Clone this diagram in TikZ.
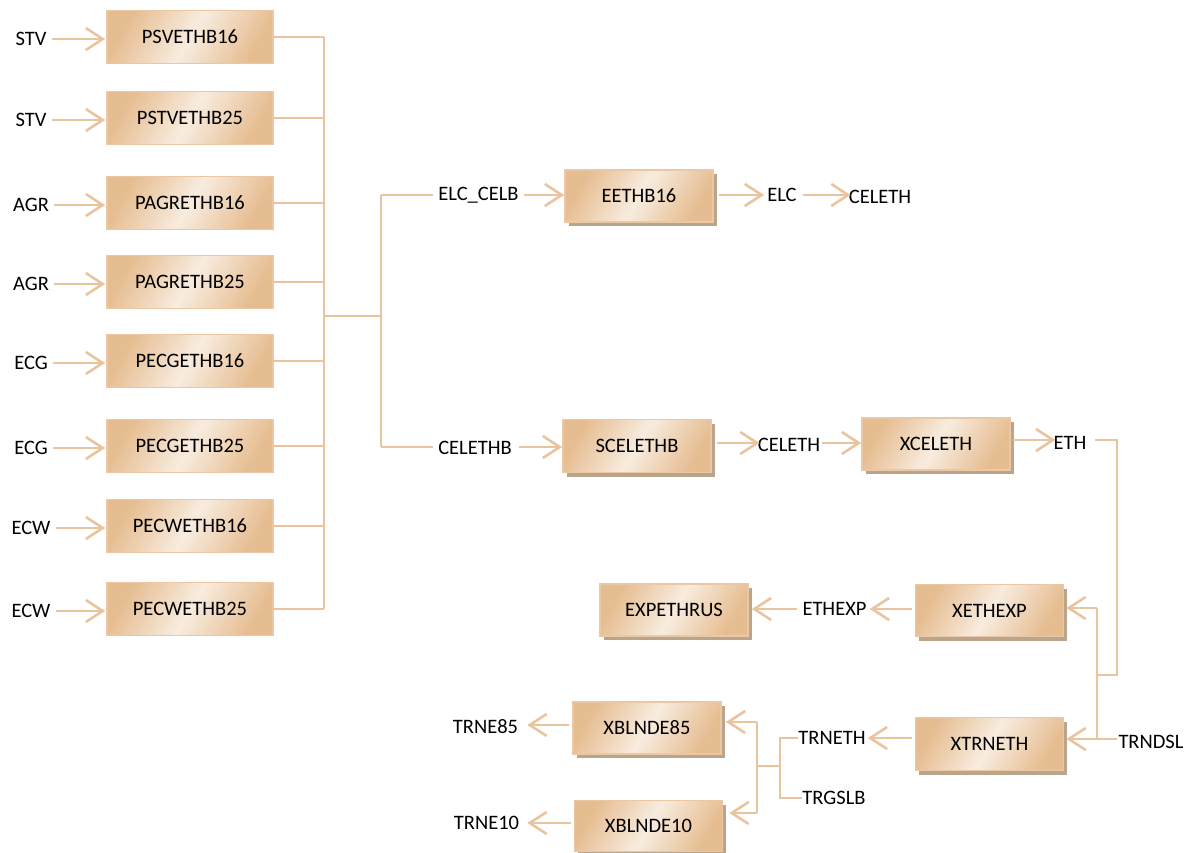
\documentclass[tikz,border=0pt]{standalone}
\usepackage{fontspec}
\setmainfont{Carlito}
\usetikzlibrary{arrows.meta,shadows}

\definecolor{linec}{HTML}{EAC49E}
\definecolor{boxline}{HTML}{EBC8A3}
\definecolor{tanD}{HTML}{E6BD91}
\definecolor{tanL}{HTML}{F8ECDF}
\definecolor{shadowc}{HTML}{B9A58C}

\tikzset{
  box/.style={rectangle, draw=boxline, line width=1.6pt,
    minimum width=148pt, minimum height=52pt, inner sep=0pt,
    left color=tanD, right color=tanD, middle color=tanL, shading angle=60},
  wbox/.style={box, minimum width=166pt, minimum height=53pt},
  sbox/.style={box, drop shadow={shadow xshift=3.5pt, shadow yshift=-4pt,
    fill=shadowc, opacity=1}},
  lbl/.style={inner sep=0pt, anchor=center},
  conn/.style={draw=linec, line width=2.6pt},
  arr/.style={conn, -{Straight Barb[length=17pt, width=22pt, line width=2.6pt]}},
}

\begin{document}
\begin{tikzpicture}[x=1pt, y=-1pt, font=\fontsize{20.5}{24}\selectfont]
\useasboundingbox (0,0) rectangle (1189,853);

% ---- left column of producers ----
\foreach \i/\lab/\nm/\y in {1/STV/PSVETHB16/37, 2/STV/PSTVETHB25/118,
    3/AGR/PAGRETHB16/203, 4/AGR/PAGRETHB25/282, 5/ECG/PECGETHB16/361,
    6/ECG/PECGETHB25/446, 7/ECW/PECWETHB16/526, 8/ECW/PECWETHB25/609} {
  \node[wbox] (b\i) at (190,\y) {\nm};
  \node[lbl] (in\i) at (31,\y+2) {\lab};
  \draw[arr, shorten <=5pt, shorten >=1pt] (in\i.east) -- (in\i.east -| b\i.west);
}

% ---- collecting bus ----
\coordinate (busT) at (324,37);
\coordinate (busB) at (324,609);
\coordinate (busM) at (324,316);
\coordinate (fork) at (381,316);
\coordinate (forkT) at (381,195);
\coordinate (forkB) at (381,447);
\draw[conn] (busT) -- (busB);
\foreach \i in {1,...,8} { \draw[conn] (b\i.east) -- (b\i.east -| busT); }
\draw[conn] (busM) -- (fork);
\draw[conn] (forkT) -- (forkB);

% ---- upper branch ----
\node[lbl] (elccelb) at (478.5,195) {ELC\_CELB};
\node[sbox] (eethb) at (639,196) {EETHB16};
\node[lbl] (elc) at (782,195) {ELC};
\node[lbl] (celeth1) at (880,197) {CELETH};
\draw[conn, shorten >=5pt] (forkT) -- (elccelb.west);
\draw[arr, shorten <=5pt] (elccelb.east) -- (eethb.west |- elccelb.east);
\draw[arr, shorten <=5pt, shorten >=3pt] (eethb.east |- elc.west) -- (elc.west);
\draw[arr, shorten <=6pt, shorten >=-2pt] (elc.east) -- (celeth1.west |- elc.east);

% ---- lower branch ----
\node[lbl] (celethb) at (475,448) {CELETHB};
\node[sbox, minimum height=53pt] (sceleth) at (637,446) {SCELETHB};
\node[lbl] (celeth2) at (789,445) {CELETH};
\node[sbox] (xceleth) at (936,444) {XCELETH};
\node[lbl] (eth) at (1070,443) {ETH};
\draw[conn, shorten >=5pt] (forkB) -- (celethb.west |- forkB);
\draw[arr, shorten <=7pt] (celethb.east |- forkB) -- (sceleth.west |- forkB);
\draw[arr, shorten <=5pt, shorten >=-2pt] (sceleth.east |- 0,443) -- (celeth2.west |- 0,443);
\draw[arr, shorten <=2pt] (celeth2.east |- 0,443) -- (xceleth.west |- 0,443);
\draw[arr, shorten <=2pt, shorten >=-2pt] (xceleth.east |- 0,440) -- (eth.west |- 0,440);

% ---- ethanol routing ----
\node[sbox] (xethexp) at (989.5,610.5) {XETHEXP};
\node[lbl] (ethexp) at (834.5,609) {ETHEXP};
\node[sbox] (expethrus) at (674,610) {EXPETHRUS};
\node[sbox, minimum height=53pt] (xtrneth) at (989.5,744) {XTRNETH};
\node[lbl] (trndsl) at (1151,742) {TRNDSL};
\coordinate (ethR) at (1117,440);
\coordinate (ethD) at (1117,675);
\coordinate (spl) at (1097,675);
\coordinate (splT) at (1097,608);
\coordinate (splB) at (1097,739);
\draw[conn, shorten <=8pt] (eth.east |- ethR) -- (ethR) -- (ethD) -- (spl);
\draw[conn] (splT) -- (splB);
\draw[arr, shorten >=2pt] (splT) -- (xethexp.east |- splT);
\draw[arr, shorten <=1pt, shorten >=2pt] (trndsl.west |- splB) -- (xtrneth.east |- splB);
\draw[arr, shorten <=3pt, shorten >=3pt] (xethexp.west |- ethexp) -- (ethexp.east);
\draw[arr, shorten <=5pt, shorten >=3pt] (ethexp.west) -- (expethrus.east |- ethexp);

% ---- blending ----
\node[lbl] (trneth) at (832,738) {TRNETH};
\node[lbl] (trgslb) at (834,798) {TRGSLB};
\node[sbox] (xb85) at (647,728) {XBLNDE85};
\node[sbox, minimum height=51pt] (xb10) at (648.5,826) {XBLNDE10};
\node[lbl] (trne85) at (485.5,727) {TRNE85};
\node[lbl] (trne10) at (486.5,823) {TRNE10};
\coordinate (brk) at (780,766);
\coordinate (brkT) at (780,738);
\coordinate (brkB) at (780,798);
\coordinate (mix) at (757,766);
\coordinate (mixT) at (757,722);
\coordinate (mixB) at (757,813);
\draw[arr, shorten <=3pt, shorten >=2pt] (xtrneth.west |- trneth) -- (trneth.east);
\draw[conn] (trneth.west) -- (brkT) -- (brkB) -- (trgslb.west);
\draw[conn] (brk) -- (mix);
\draw[conn] (mixT) -- (mixB);
\draw[arr, shorten >=4pt] (mixT) -- (xb85.east |- mixT);
\draw[arr, shorten >=6pt] (mixB) -- (xb10.east |- mixB);
\draw[arr, shorten <=3pt, shorten >=9pt] (xb85.west |- 0,725) -- (trne85.east |- 0,725);
\draw[arr, shorten <=3pt, shorten >=8pt] (xb10.west |- 0,823) -- (trne10.east |- 0,823);
\end{tikzpicture}
\end{document}
